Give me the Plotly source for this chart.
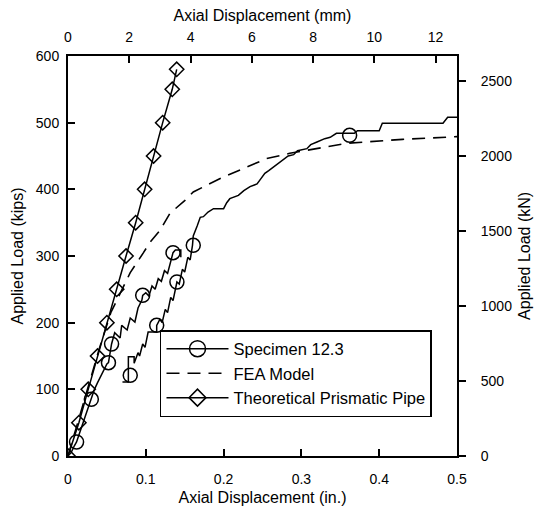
import plotly.graph_objects as go

# ---------------- data ----------------
# Theoretical prismatic pipe (in., kips)
theory_x = [0.0, 0.014, 0.026, 0.038, 0.050, 0.0626, 0.0746, 0.087, 0.0985, 0.110, 0.1217, 0.134, 0.1397]
theory_y = [0, 50, 100, 150, 200, 250, 300, 350, 400, 450, 500, 550, 580]

# FEA model (in., kips)
fea_x = [0.0, 0.02, 0.04, 0.055, 0.065, 0.080, 0.097, 0.105, 0.118, 0.131, 0.150, 0.161,
         0.195, 0.238, 0.255, 0.285, 0.358, 0.430, 0.500]
fea_y = [0, 80, 160, 215, 240, 275, 305, 320, 338, 364, 383, 396,
         416, 438, 446, 454, 469, 475, 479]

# Specimen 12.3 – first loading branch (in., kips)
spec_a_x = [0.0, 0.004, 0.008, 0.011, 0.015, 0.018, 0.022, 0.026, 0.030, 0.034, 0.038, 0.042,
            0.046, 0.050, 0.052, 0.054, 0.056, 0.060, 0.067, 0.069, 0.076, 0.080, 0.086, 0.090,
            0.095, 0.096, 0.100, 0.104, 0.108, 0.112, 0.116, 0.120, 0.124, 0.128, 0.132, 0.135,
            0.138, 0.145, 0.145]
spec_a_y = [0, 5, 15, 21, 35, 45, 60, 75, 85, 100, 110, 120,
            130, 138, 140, 155, 168, 185, 177, 196, 189, 207, 201, 222,
            234, 241, 245, 240, 255, 250, 266, 262, 278, 274, 292, 305,
            309, 309, 298]

# Specimen 12.3 – reloading branch up to the end of the test (in., kips)
spec_b_x = [0.070, 0.0776, 0.0776, 0.085, 0.085, 0.090, 0.092, 0.096, 0.099, 0.103, 0.114, 0.114,
            0.118, 0.121, 0.125, 0.128, 0.132, 0.135, 0.140, 0.143, 0.147, 0.150, 0.154, 0.157,
            0.160, 0.161, 0.166, 0.170, 0.174, 0.180, 0.187, 0.200, 0.204, 0.208, 0.219, 0.226,
            0.234, 0.243, 0.248, 0.253, 0.258, 0.264, 0.272, 0.278, 0.283, 0.290, 0.295, 0.307,
            0.312, 0.320, 0.330, 0.337, 0.345, 0.368, 0.372, 0.400, 0.404, 0.482, 0.488, 0.500]
spec_b_y = [111, 111, 149, 149, 139, 155, 150, 168, 163, 186, 186, 196,
            205, 200, 220, 215, 238, 233, 261, 258, 280, 276, 298, 294,
            316, 330, 345, 358, 359, 366, 371, 371, 380, 386, 391, 398,
            404, 408, 416, 424, 428, 433, 441, 446, 450, 452, 458, 461,
            467, 471, 476, 478, 484, 484, 488, 488, 499, 499, 508, 508]

# Specimen 12.3 – circle symbol locations (in., kips)
spec_mark_x = [0.011, 0.030, 0.052, 0.056, 0.096, 0.135, 0.080, 0.114, 0.140, 0.161, 0.362]
spec_mark_y = [21, 85, 140, 168, 241, 305, 121, 196, 261, 316, 481]

# Axis settings
x_in_ticks = [0, 0.1, 0.2, 0.3, 0.4, 0.5]
y_kips_ticks = [0, 100, 200, 300, 400, 500, 600]
x_mm_ticks = [0, 2, 4, 6, 8, 10, 12]
y_kn_ticks = [0, 500, 1000, 1500, 2000, 2500]
IN_TO_MM = 25.4
KIP_TO_KN = 4.448

# ---------------- figure ----------------
FONT = "Liberation Sans, Arial, sans-serif"
BLK = "black"

spec_x = spec_a_x + [None] + spec_b_x
spec_y = spec_a_y + [None] + spec_b_y

fig = go.Figure()
fig.add_trace(go.Scatter(x=fea_x, y=fea_y, mode="lines",
                         line=dict(color=BLK, width=1.6, dash="13px,8px"),
                         showlegend=False, hoverinfo="skip"))
fig.add_trace(go.Scatter(x=spec_x, y=spec_y, mode="lines", connectgaps=False,
                         line=dict(color=BLK, width=1.5),
                         showlegend=False, hoverinfo="skip"))
fig.add_trace(go.Scatter(x=spec_mark_x, y=spec_mark_y, mode="markers",
                         marker=dict(symbol="circle-open", size=14, color=BLK, line=dict(width=1.5, color=BLK)),
                         showlegend=False, hoverinfo="skip"))
fig.add_trace(go.Scatter(x=theory_x, y=theory_y, mode="lines+markers",
                         line=dict(color=BLK, width=1.5),
                         marker=dict(symbol="diamond-open", size=11, color=BLK, line=dict(width=1.5, color=BLK)),
                         showlegend=False, hoverinfo="skip"))

# legend entries
fig.add_trace(go.Scatter(x=[None], y=[None], mode="lines+markers", name="Specimen 12.3",
                         line=dict(color=BLK, width=1.5),
                         marker=dict(symbol="circle-open", size=16, color=BLK, line=dict(width=1.5, color=BLK))))
fig.add_trace(go.Scatter(x=[None], y=[None], mode="lines", name="FEA Model",
                         line=dict(color=BLK, width=1.6, dash="13px,8px")))
fig.add_trace(go.Scatter(x=[None], y=[None], mode="lines+markers", name="Theoretical Prismatic Pipe",
                         line=dict(color=BLK, width=1.5),
                         marker=dict(symbol="diamond-open", size=13, color=BLK, line=dict(width=1.5, color=BLK))))

# secondary axes carrier
fig.add_trace(go.Scatter(x=[None], y=[None], xaxis="x2", yaxis="y2", showlegend=False, hoverinfo="skip"))

axis_common = dict(showgrid=False, zeroline=False, showline=True, linecolor=BLK, linewidth=2,
                   tickcolor=BLK, tickwidth=1.5, ticklen=7,
                   tickfont=dict(family=FONT, size=14, color=BLK),
                   automargin=False)

fig.update_layout(
    width=538, height=510,
    margin=dict(l=68, r=81, t=56, b=54),
    paper_bgcolor="white", plot_bgcolor="white",
    font=dict(family=FONT, color=BLK, size=14),
    xaxis=dict(range=[0, 0.5], tickvals=x_in_ticks, ticktext=[str(v) if v else "0" for v in x_in_ticks],
               ticks="inside", side="bottom", ticklabelstandoff=9,
               title=dict(text="Axial Displacement (in.)", font=dict(size=16), standoff=6),
               **axis_common),
    xaxis2=dict(range=[0, 0.5 * IN_TO_MM], tickvals=x_mm_ticks, overlaying="x", side="top",
                ticks="inside", anchor="y", ticklabelstandoff=6,
                title=dict(text="Axial Displacement (mm)", font=dict(size=16), standoff=4),
                **axis_common),
    yaxis=dict(range=[0, 600], tickvals=y_kips_ticks, ticks="inside", side="left", ticklabelstandoff=4,
               title=dict(text="Applied Load (kips)", font=dict(size=16), standoff=8),
               **axis_common),
    yaxis2=dict(range=[0, 600 * KIP_TO_KN], tickvals=y_kn_ticks, overlaying="y", side="right",
                ticks="outside", anchor="x", ticklabelstandoff=12,
                **axis_common),
    legend=dict(x=0.2365, y=0.315, xanchor="left", yanchor="top",
                bgcolor="white", bordercolor=BLK, borderwidth=1.5,
                font=dict(family=FONT, size=16.5, color=BLK),
                itemwidth=62, tracegroupgap=0),
    annotations=[dict(text="Applied Load (kN)", xref="paper", yref="paper",
                      x=1.172, y=0.5, xanchor="center", yanchor="middle",
                      textangle=-90, showarrow=False,
                      font=dict(family=FONT, size=16, color=BLK))],
)

fig.write_html("out.html")
